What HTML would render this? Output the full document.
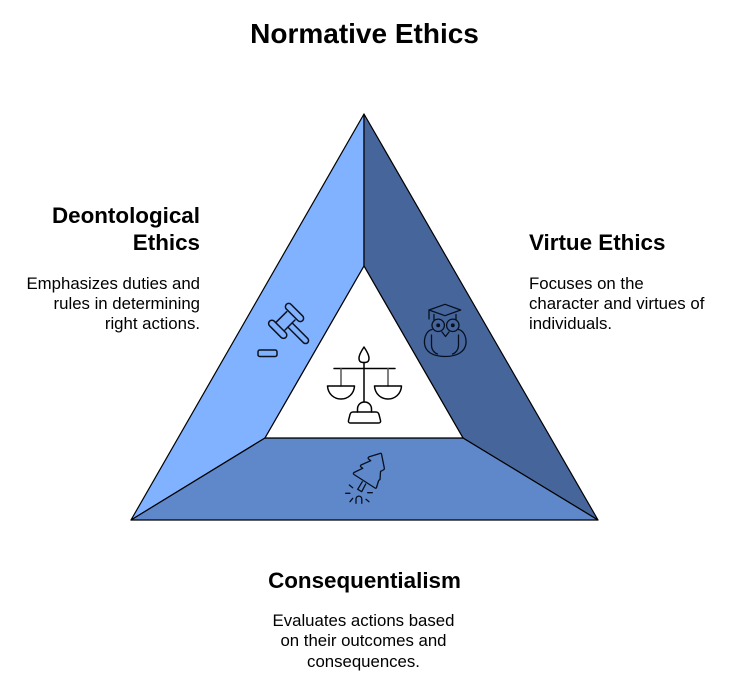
<!DOCTYPE html>
<html>
<head>
<meta charset="utf-8">
<style>
html,body{margin:0;padding:0;background:#fff}
body{width:729px;height:689px;overflow:hidden;position:relative}
svg{position:absolute;left:0;top:0}
text{font-family:"Liberation Sans",sans-serif;fill:#000}
.h{font-size:22.4px;font-weight:700}
.t{font-size:16.8px}
.i{fill:none;stroke:#0b1220;stroke-width:1.5;stroke-linecap:round;stroke-linejoin:round}
</style>
</head>
<body>
<svg width="729" height="689" viewBox="0 0 729 689">
<text x="364.5" y="43" text-anchor="middle" font-size="28" font-weight="700">Normative Ethics</text>

<polygon points="364,114 364,266 265,438 131,520" fill="#80b2ff" stroke="#000" stroke-width="1.2" stroke-linejoin="round"/>
<polygon points="364,114 598,520 463,438 364,266" fill="#46659b" stroke="#000" stroke-width="1.2" stroke-linejoin="round"/>
<polygon points="131,520 265,438 463,438 598,520" fill="#5f88cb" stroke="#000" stroke-width="1.2" stroke-linejoin="round"/>
<polygon points="364,266 463,438 265,438" fill="#fff" stroke="#000" stroke-width="1.2" stroke-linejoin="round"/>

<!-- scales -->
<g class="i" style="stroke:#000">
<path d="M364 347c-2 3-5 8-5 11 0 4 2 4.500 5 4.500s5-.5 5-4.500c0-3-3-8-5-11z"/>
<path d="M364 362.500V402"/>
<path d="M334 368.500H395"/>
<path d="M341 368.500V386M388 368.500V386" style="stroke:#555"/>
<path d="M327.500 386H354.500C354 394 348 399 341 399S328 394 327.500 386z"/>
<path d="M374.500 386H401.500C401 394 395 399 388 399S375 394 374.500 386z"/>
<path d="M357.500 412V409c0-4 3-7 7-7s7 3 7 7v3"/>
<path d="M353 412H376c2 0 2.500 1 3 2.500l1.500 6c.5 1.500-.5 2.500-2 2.500H350.500c-1.500 0-2.500-1-2-2.500l1.500-6c.5-1.500 1-2.500 3-2.500z"/>
</g>

<!-- gavel -->
<g class="i">
<rect x="-11.500" y="-3.300" width="23" height="6.600" rx="3.300" transform="translate(294.500,312.500) rotate(45)"/>
<rect x="-11.500" y="-3.300" width="23" height="6.600" rx="3.300" transform="translate(277.700,329.300) rotate(45)"/>
<path d="M286.700 311.700L276 322.300M295 320L285 330"/>
<path d="M0 -3H22a3 3 0 0 1 0 6H0" transform="translate(290,325) rotate(45)"/>
<rect x="258" y="350" width="19" height="6.500" rx="1.800"/>
</g>

<!-- owl -->
<g class="i" style="stroke:#06101f;stroke-width:1.3">
<path d="M429 310L445 304.300 460.700 310 445 315.700z"/>
<path d="M429 310V319M434 314.500V320M456 314.500V320"/>
<circle cx="438.200" cy="325.300" r="6.200"/><circle cx="452.800" cy="325.300" r="6.200"/>
<circle cx="438.200" cy="325.300" r="1.300" fill="#06101f"/><circle cx="452.800" cy="325.300" r="1.300" fill="#06101f"/>
<path d="M442 332l3.500 4.500 3.500-4.500"/>
<path d="M432 329.500c-5 1-8 7-7.500 14 .7 8 8 13 20.500 13s20-5 21-13c.5-7-2.500-13-7.500-14"/>
<path d="M431.500 335V345c0 5 3 8 6 9M458.500 335V345c0 5-3 8-6 9"/>
</g>

<!-- tree -->
<g class="i" style="stroke:#06101f;stroke-width:1.3">
<path d="M380.700 453.300L369.300 456.700Q367.500 457.500 368.500 459L370.700 460.700L361 465Q359.800 466 361 467L362.700 468.300L354 472.500Q352.700 473.500 354 474.500L375 488Q376 488.700 376.500 487.500L378.500 481Q379 480 380 479.500L380.500 472Q380.500 471 381.500 471L384 469.500Q384.500 469 384.300 468L381.500 454Q381.300 453.300 380.700 453.300z"/>
<path d="M362.300 481.700L357.700 489.300L361.700 491.700L365.700 484"/>
<path d="M349.300 485L352.700 487.700M345.700 493.300H350M367.700 492.700H372.300M350 501.700L352.700 498.300M366 499.300L369 501.700"/>
<path d="M356 503.300V499a2.900 2.900 0 0 1 5.800 0V503.300"/>
</g>

<text class="h" x="200" y="223" text-anchor="end">Deontological</text>
<text class="h" x="200" y="250" text-anchor="end">Ethics</text>
<text class="t" x="200" y="289" text-anchor="end">Emphasizes duties and</text>
<text class="t" x="200" y="309" text-anchor="end">rules in determining</text>
<text class="t" x="200" y="329" text-anchor="end">right actions.</text>

<text class="h" x="529" y="250">Virtue Ethics</text>
<text class="t" x="529" y="289">Focuses on the</text>
<text class="t" x="529" y="309">character and virtues of</text>
<text class="t" x="529" y="329">individuals.</text>

<text class="h" x="364.500" y="588" text-anchor="middle">Consequentialism</text>
<text class="t" x="363.500" y="626" text-anchor="middle">Evaluates actions based</text>
<text class="t" x="363.500" y="646" text-anchor="middle">on their outcomes and</text>
<text class="t" x="363.500" y="667" text-anchor="middle">consequences.</text>
</svg>
</body>
</html>
